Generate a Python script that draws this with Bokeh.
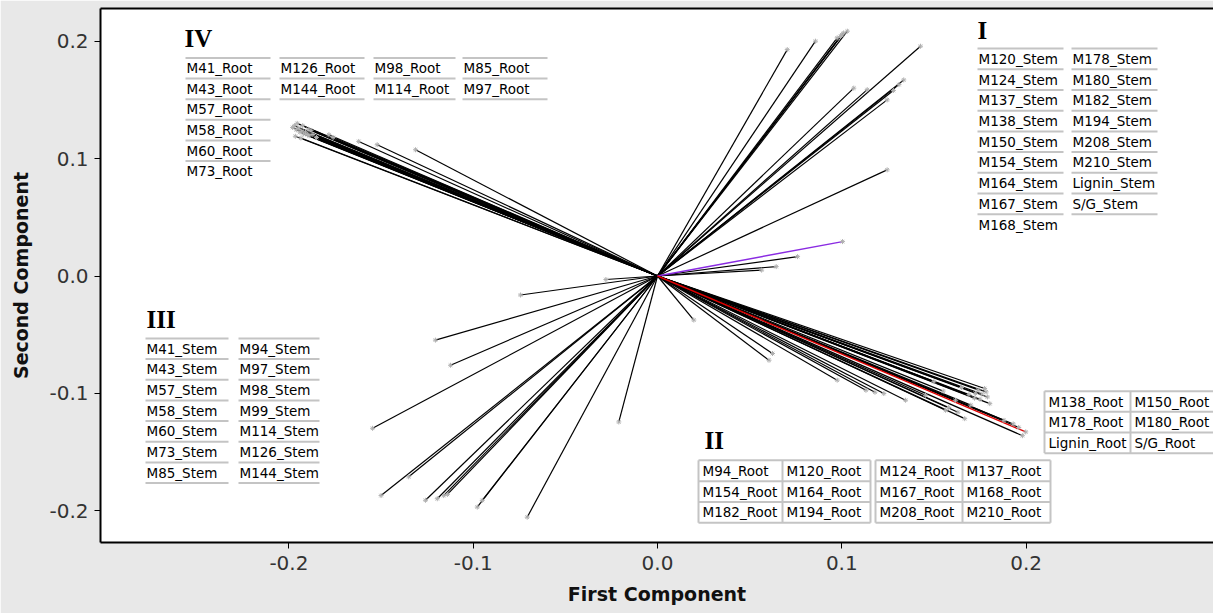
import math
from bokeh.plotting import figure
from bokeh.models import LinearAxis, Range1d, FixedTicker, PrintfTickFormatter
from bokeh.embed import file_html
from bokeh.resources import INLINE
from bokeh.core.properties import value

# ---------------- data (loading vectors: end points of each line from origin) -------------
# Quadrant I (stems)
q1_x = [0.0704, 0.0857, 0.0975, 0.0993, 0.101, 0.103, 0.1000, 0.1427, 0.1336, 0.131, 0.128, 0.1246,
        0.1065, 0.1138, 0.1246, 0.076, 0.0644, 0.0565]
q1_y = [0.1928, 0.2000, 0.2028, 0.2040, 0.207, 0.2085, 0.2055, 0.1957, 0.167, 0.163, 0.158, 0.150,
        0.160, 0.1587, 0.0904, 0.0165, 0.008, 0.005]
# Quadrant II (roots, lower right)
q2_x = [0.1775, 0.1783, 0.176, 0.1803, 0.175, 0.172, 0.170, 0.1667, 0.163, 0.158, 0.196, 0.198,
        0.1725, 0.1617, 0.1454, 0.1346, 0.1563, 0.1690, 0.1740, 0.1790, 0.1930, 0.1880,
        0.1131, 0.1228, 0.118, 0.0975, 0.0624, 0.0605, 0.0197, 0.150, 0.165, 0.155]
q2_y = [-0.0958, -0.0987, -0.1005, -0.1087, -0.105, -0.104, -0.110, -0.1215, -0.116, -0.112, -0.129, -0.136,
        -0.0999, -0.1058, -0.1015, -0.1058, -0.1143, -0.1010, -0.0970, -0.1030, -0.1260, -0.1230,
        -0.0973, -0.1001, -0.099, -0.0887, -0.066, -0.0717, -0.0375, -0.090, -0.095, -0.098]
# Quadrant III (stems, lower left)
q3_x = [-0.1546, -0.1205, -0.1123, -0.150, -0.135, -0.1259, -0.1195, -0.116, -0.114, -0.0978,
        -0.0951, -0.0707, -0.021, -0.0743, -0.028]
q3_y = [-0.1297, -0.0546, -0.076, -0.187, -0.171, -0.191, -0.1897, -0.187, -0.186, -0.1968,
        -0.1911, -0.2054, -0.1243, -0.0162, -0.003]
# Quadrant IV (roots, upper left)
q4_x = [-0.198, -0.196, -0.1946, -0.194, -0.193, -0.192, -0.191, -0.190, -0.189, -0.187, -0.185, -0.197,
        -0.1955, -0.1925, -0.1895, -0.1965, -0.1935, -0.1880,
        -0.1783, -0.176, -0.1621, -0.1521, -0.1313]
q4_y = [0.1265, 0.1245, 0.126, 0.1225, 0.1235, 0.121, 0.1225, 0.1205, 0.1195, 0.1205, 0.118, 0.128,
        0.1300, 0.1280, 0.1250, 0.1190, 0.1175, 0.1240,
        0.1203, 0.118, 0.1146, 0.1118, 0.1075]
# highlighted vectors
purple_x = [0.1004]
purple_y = [0.0293]
red_x = [0.1998]
red_y = [-0.1328]

x_ticks = [-0.2, -0.1, 0.0, 0.1, 0.2]
y_ticks = [-0.2, -0.1, 0.0, 0.1, 0.2]

# group tables
group_I = [["M120_Stem", "M124_Stem", "M137_Stem", "M138_Stem", "M150_Stem", "M154_Stem",
            "M164_Stem", "M167_Stem", "M168_Stem"],
           ["M178_Stem", "M180_Stem", "M182_Stem", "M194_Stem", "M208_Stem", "M210_Stem",
            "Lignin_Stem", "S/G_Stem"]]
group_III = [["M41_Stem", "M43_Stem", "M57_Stem", "M58_Stem", "M60_Stem", "M73_Stem", "M85_Stem"],
             ["M94_Stem", "M97_Stem", "M98_Stem", "M99_Stem", "M114_Stem", "M126_Stem", "M144_Stem"]]
group_IV = [["M41_Root", "M43_Root", "M57_Root", "M58_Root", "M60_Root", "M73_Root"],
            ["M126_Root", "M144_Root"], ["M98_Root", "M114_Root"], ["M85_Root", "M97_Root"]]
group_II = [["M94_Root", "M120_Root", "M124_Root", "M137_Root"],
            ["M154_Root", "M164_Root", "M167_Root", "M168_Root"],
            ["M182_Root", "M194_Root", "M208_Root", "M210_Root"]]
group_II_extra = [["M138_Root", "M150_Root"], ["M178_Root", "M180_Root"], ["Lignin_Root", "S/G_Root"]]

# ---------------- layout helpers (picture pixel -> data) ----------------
X0, XS = 657.0, 1843.0
Y0, YS = 276.0, 1172.0
def X(px):
    return (px - X0) / XS
def Y(py):
    return (Y0 - py) / YS

FONT = "DejaVu Sans"
GRID = "#c4c4c4"

p = figure(width=1213, height=613,
           x_range=Range1d(X(100), X(1213)), y_range=Range1d(Y(542), Y(9)),
           output_backend="svg", toolbar_location=None,
           min_border_left=100, min_border_right=0, min_border_top=8, min_border_bottom=71,
           background_fill_color="white", border_fill_color="#e8e8e8")
p.xgrid.visible = False
p.ygrid.visible = False
p.outline_line_color = None

for ax, ticks in ((p.xaxis[0], x_ticks), (p.yaxis[0], y_ticks)):
    ax.ticker = FixedTicker(ticks=ticks)
    ax.formatter = PrintfTickFormatter(format="%.1f")
    ax.axis_line_width = 2
    ax.axis_line_color = "black"
    ax.major_tick_line_color = "black"
    ax.major_tick_line_width = 1
    ax.major_tick_out = 6
    ax.major_tick_in = 0
    ax.minor_tick_line_color = None
    ax.major_label_text_font = FONT
    ax.major_label_text_font_size = "20px"
    ax.major_label_text_color = "#333333"
    ax.axis_label_text_font = FONT
    ax.axis_label_text_font_style = "bold"
    ax.axis_label_text_font_size = "19px"
    ax.axis_label_text_color = "#111111"
p.xaxis.axis_label = "First Component"
p.yaxis.axis_label = "Second Component"
p.xaxis.major_label_standoff = 7
p.xaxis.axis_label_standoff = 10
p.yaxis.major_label_standoff = 6
p.yaxis.axis_label_standoff = 14

top = LinearAxis(ticker=FixedTicker(ticks=[]), major_label_text_font_size="0px",
                 major_tick_line_color=None, minor_tick_line_color=None,
                 axis_line_width=2, axis_line_color="black", major_label_standoff=0)
p.add_layout(top, "above")

# ---------------- vectors ----------------
all_x = q1_x + q2_x + q3_x + q4_x
all_y = q1_y + q2_y + q3_y + q4_y
p.segment(x0=[0] * len(all_x), y0=[0] * len(all_y), x1=all_x, y1=all_y,
          line_color="black", line_width=1.2)
p.segment(x0=[0], y0=[0], x1=purple_x, y1=purple_y, line_color="#8a2be2", line_width=1.4)
p.segment(x0=[0], y0=[0], x1=red_x, y1=red_y, line_color="#e00000", line_width=1.4)
ex = all_x + purple_x + red_x
ey = all_y + purple_y + red_y
p.scatter(ex, ey, size=5, marker="asterisk", line_color="#b0b0b0", line_width=1)

# ---------------- tables ----------------
def roman(txt, px, py):
    p.text([X(px)], [Y(py)], text=[txt], text_font=value("Liberation Serif"),
           text_font_style="bold", text_font_size="25px", text_baseline="middle",
           text_align="left", text_color="black")

def ruled_table(cols, spans, top_py, h, nlines):
    sx0, sy0, sx1, sy1 = [], [], [], []
    tx, ty, tt = [], [], []
    for col, (a, b), nl in zip(cols, spans, nlines):
        for k in range(nl):
            yy = Y(top_py + k * h)
            sx0.append(X(a)); sx1.append(X(b)); sy0.append(yy); sy1.append(yy)
        for k, name in enumerate(col):
            tx.append(X(a + 1)); ty.append(Y(top_py + (k + 0.5) * h)); tt.append(name)
    p.segment(sx0, sy0, sx1, sy1, line_color=GRID, line_width=2)
    p.text(tx, ty, text=tt, text_font=value(FONT), text_font_size="13.5px",
           text_baseline="middle", text_align="left", text_color="black")

def grid_table(rows, col_edges_list, top_py, h):
    sx0, sy0, sx1, sy1 = [], [], [], []
    tx, ty, tt = [], [], []
    nrows = len(rows)
    for edges in col_edges_list:
        for k in range(nrows + 1):
            yy = Y(top_py + k * h)
            sx0.append(X(edges[0])); sx1.append(X(edges[-1])); sy0.append(yy); sy1.append(yy)
        for e in edges:
            sx0.append(X(e)); sx1.append(X(e)); sy0.append(Y(top_py)); sy1.append(Y(top_py + nrows * h))
    lefts = [e for edges in col_edges_list for e in edges[:-1]]
    for r, row in enumerate(rows):
        for c, name in enumerate(row):
            tx.append(X(lefts[c] + 4)); ty.append(Y(top_py + (r + 0.5) * h)); tt.append(name)
    p.segment(sx0, sy0, sx1, sy1, line_color=GRID, line_width=2)
    p.text(tx, ty, text=tt, text_font=value(FONT), text_font_size="13.5px",
           text_baseline="middle", text_align="left", text_color="black")

roman("IV", 184, 39)
ruled_table(group_IV, [(185, 270), (279, 364), (373, 455), (462, 547)], 58.3, 20.6, [6, 3, 3, 3])
roman("I", 977, 31)
ruled_table(group_I, [(977, 1063), (1071, 1157)], 49, 20.67, [9, 9])
roman("III", 146, 319)
ruled_table(group_III, [(145, 228), (238, 319)], 338.3, 20.63, [8, 8])
roman("II", 704, 440)
grid_table(group_II, [[698, 782, 870], [875, 962, 1050]], 460, 20.77)
grid_table(group_II_extra, [[1044, 1130, 1222]], 391, 20.6)

open("out.html", "w").write(file_html(p, INLINE))
